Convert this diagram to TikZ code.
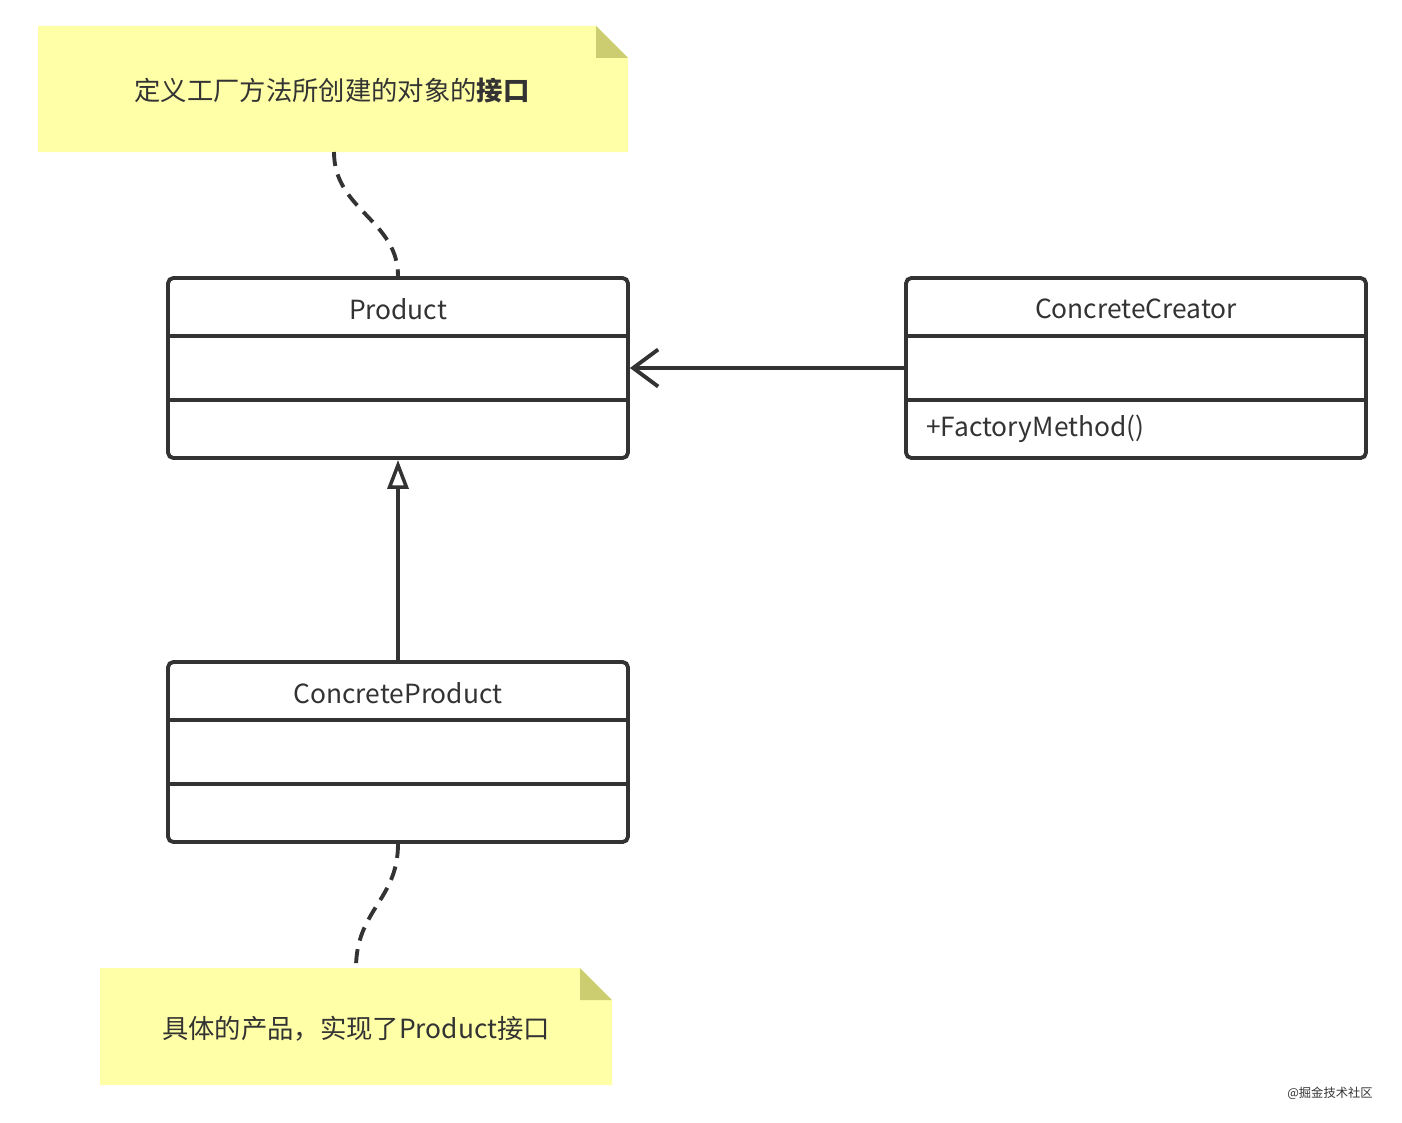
\documentclass[tikz,border=0pt]{standalone}
\usepackage{fontspec}
\setmainfont{Noto Sans CJK SC}
\usepackage{tikz}
\usetikzlibrary{arrows.meta, positioning}
\definecolor{ink}{RGB}{51,51,51}
\definecolor{notefill}{RGB}{255,255,168}
\definecolor{notefold}{RGB}{204,204,112}

\begin{document}
\begin{tikzpicture}[x=0.02cm, y=-0.02cm, font=\fontsize{15}{18}\selectfont, text=ink,
  cls/.style={rectangle, rounded corners=3pt, draw=ink, line width=2.2pt,
              minimum width=9.2cm, minimum height=3.6cm, inner sep=0pt},
  ttl/.style={anchor=center},
  sep/.style={draw=ink, line width=2.2pt},
  notebg/.style={fill=notefill},
  fold/.style={fill=notefold},
  link/.style={ink, line width=2.2pt, dash pattern=on 8pt off 5pt},
  assoc/.style={-{Straight Barb[length=5mm, width=7.4mm, line width=2.2pt]}, ink, line width=2.2pt},
  realize/.style={-{Triangle[open, length=5.8mm, width=4.2mm, line width=2pt]}, ink, line width=2.2pt}]
  \useasboundingbox (0,0) rectangle (1402,1122);

  % notes
  \fill[notebg] (38,26) -- (596,26) -- (628,58) -- (628,152) -- (38,152) -- cycle;
  \fill[fold] (596,26) -- (628,58) -- (596,58) -- cycle;
  \coordinate (n1) at (334,152);
  \node (note1) at (332,91) {定义工厂方法所创建的对象的\textbf{接口}};

  \fill[notebg] (100,968) -- (580,968) -- (612,1000) -- (612,1085) -- (100,1085) -- cycle;
  \fill[fold] (580,968) -- (612,1000) -- (580,1000) -- cycle;
  \coordinate (n2) at (356,968);
  \node (note2) at (356,1029) {具体的产品，实现了Product接口};

  % classes
  \foreach \n/\x/\y/\t in {product/398/368/Product, creator/1136/368/ConcreteCreator,
                          cproduct/398/752/ConcreteProduct} {
    \node[cls] (\n) at (\x,\y) {};
    \node[ttl] (\n-title) at (\x,\y-59) {\t};
    \draw[sep] ([yshift=-1.2cm]\n.north west) -- ([yshift=-1.2cm]\n.north east);
    \draw[sep] ([yshift=1.2cm]\n.south west) -- ([yshift=1.2cm]\n.south east);
  }
  \node[anchor=west] (factory) at (920,429) {+FactoryMethod()};

  % relations
  \draw[assoc] (creator.west) -- (product.east);
  \draw[realize] (cproduct.north) -- (product.south);
  \draw[link] (n1) .. controls (334,210) and (398,220) .. (product.north);
  \draw[link] (cproduct.south) .. controls (398,900) and (356,910) .. (n2);

  \node (mark) at (1330,1093) {\fontsize{7}{8}\selectfont @掘金技术社区};
\end{tikzpicture}
\end{document}
